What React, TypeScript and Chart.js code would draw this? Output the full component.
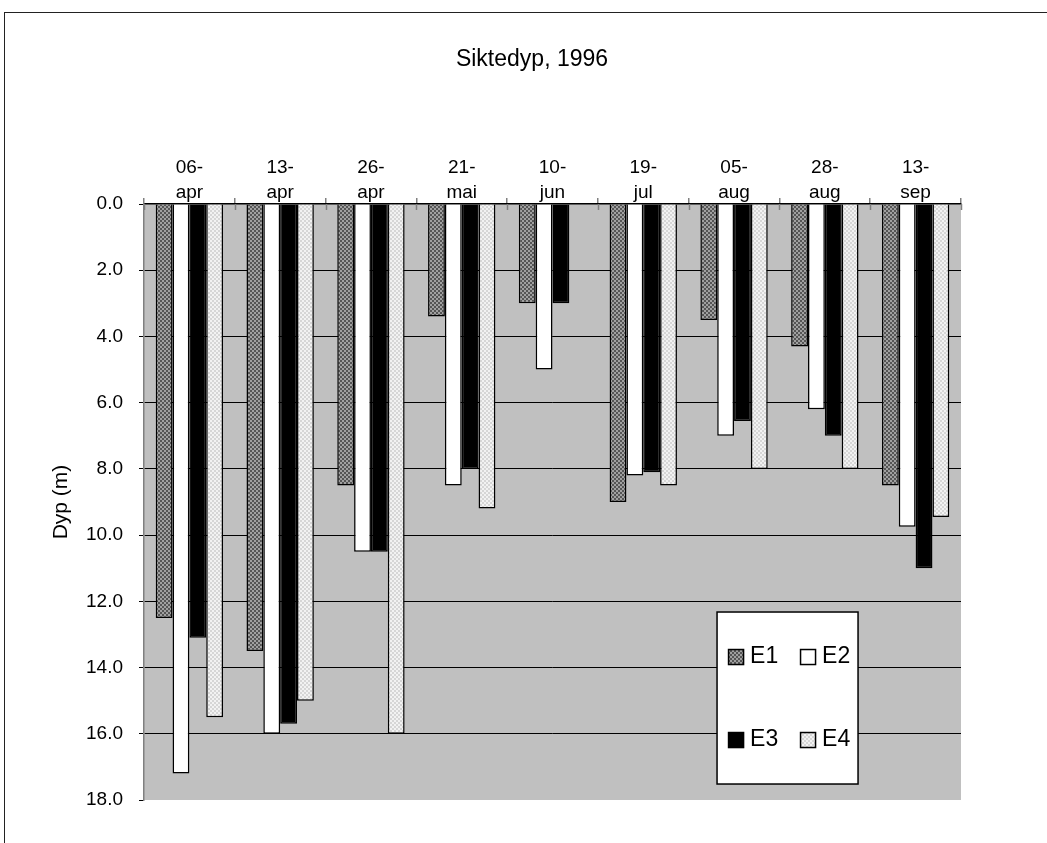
import React, { useEffect, useRef } from 'react';
import { Chart, registerables } from 'chart.js';

Chart.register(...registerables);

const chartTitle = 'Siktedyp, 1996';
const yAxisTitle = 'Dyp (m)';
const categories: string[][] = [
  ['06-', 'apr'], ['13-', 'apr'], ['26-', 'apr'], ['21-', 'mai'], ['10-', 'jun'],
  ['19-', 'jul'], ['05-', 'aug'], ['28-', 'aug'], ['13-', 'sep'],
];
const seriesNames = ['E1', 'E2', 'E3', 'E4'];
const e1Values = [12.5, 13.5, 8.5, 3.4, 3.0, 9.0, 3.5, 4.3, 8.5];
const e2Values = [17.2, 16.0, 10.5, 8.5, 5.0, 8.2, 7.0, 6.2, 9.75];
const e3Values = [13.1, 15.7, 10.5, 8.0, 3.0, 8.1, 6.55, 7.0, 11.0];
const e4Values: (number | null)[] = [15.5, 15.0, 16.0, 9.2, null, 8.5, 8.0, 8.0, 9.45];
const yMin = 0;
const yMax = 18;
const yStep = 2;

const FONT = "'Liberation Sans', Arial, sans-serif";

function makePattern(a: string, b: string, cell: number): CanvasPattern | string {
  const c = document.createElement('canvas');
  c.width = cell * 2;
  c.height = cell * 2;
  const ctx = c.getContext('2d');
  if (!ctx) return a;
  ctx.fillStyle = a;
  ctx.fillRect(0, 0, cell * 2, cell * 2);
  ctx.fillStyle = b;
  ctx.fillRect(cell, 0, cell, cell);
  ctx.fillRect(0, cell, cell, cell);
  const p = ctx.createPattern(c, 'repeat');
  return p || a;
}

export default function App() {
  const canvasRef = useRef<HTMLCanvasElement | null>(null);

  useEffect(() => {
    const canvas = canvasRef.current;
    if (!canvas) return;

    const fills = [
      makePattern('#555555', '#a0a0a0', 2),
      '#ffffff',
      '#000000',
      makePattern('#d6d6d6', '#f2f2f2', 2),
    ];

    const padLeft = 45;
    const padTop = 100;
    const padRight = 86;
    const padBottom = 43;
    const areaLeft = 144;
    const areaTop = 204;

    const decorPlugin = {
      id: 'decor',
      beforeDraw(chart: any) {
        const { ctx, chartArea } = chart;
        ctx.save();
        ctx.fillStyle = '#ffffff';
        ctx.fillRect(0, 0, chart.width, chart.height);
        ctx.strokeStyle = '#222222';
        ctx.lineWidth = 1;
        ctx.strokeRect(4.5, 12.5, chart.width + 50, chart.height + 50);
        ctx.fillStyle = '#c0c0c0';
        ctx.fillRect(chartArea.left, chartArea.top, chartArea.right - chartArea.left, chartArea.bottom - chartArea.top);
        ctx.restore();
      },
      afterDraw(chart: any) {
        const { ctx, chartArea } = chart;
        ctx.save();
        // tick marks crossing below the top axis
        const xs = chart.scales.x;
        const n = chart.data.labels.length;
        const step = (xs.right - xs.left) / n;
        ctx.strokeStyle = '#808080';
        ctx.lineWidth = 1.5;
        for (let i = 0; i <= n; i++) {
          const px = Math.round(xs.left + i * step) + 0.5;
          ctx.beginPath();
          ctx.moveTo(px, chartArea.top);
          ctx.lineTo(px, chartArea.top + 6);
          ctx.stroke();
        }

        // title
        ctx.fillStyle = '#000';
        ctx.font = `23px ${FONT}`;
        ctx.textAlign = 'center';
        ctx.textBaseline = 'middle';
        ctx.fillText(chartTitle, 532, 60);

        // legend box
        const w = chartArea.right - chartArea.left;
        const h = chartArea.bottom - chartArea.top;
        const lx = chartArea.left + w * 0.7014;
        const ly = chartArea.top + h * 0.6846;
        const lw = 141;
        const lh = 172;
        ctx.fillStyle = '#ffffff';
        ctx.fillRect(lx, ly, lw, lh);
        ctx.strokeStyle = '#000';
        ctx.lineWidth = 1.5;
        ctx.strokeRect(lx, ly, lw, lh);
        const ds = chart.data.datasets;
        ds.forEach((d: any, i: number) => {
          const col = i % 2;
          const row = Math.floor(i / 2);
          const sx = lx + 11 + col * 72;
          const cy = ly + 44 + row * 83;
          ctx.fillStyle = d.backgroundColor;
          ctx.fillRect(sx, cy - 7, 16, 16);
          ctx.strokeStyle = '#000';
          ctx.lineWidth = 1.5;
          ctx.strokeRect(sx + 0.5, cy - 6.5, 15, 15);
          ctx.fillStyle = '#000';
          ctx.font = `23px ${FONT}`;
          ctx.textAlign = 'left';
          ctx.textBaseline = 'middle';
          ctx.fillText(d.label, sx + 22, cy + 1);
        });
        ctx.restore();
      },
    };

    const chart = new Chart(canvas, {
      type: 'bar',
      data: {
        labels: categories,
        datasets: [e1Values, e2Values, e3Values, e4Values].map((vals, i) => ({
          label: seriesNames[i],
          data: vals,
          backgroundColor: fills[i] as any,
          borderColor: '#000000',
          borderWidth: 1.5,
          categoryPercentage: 0.742,
          barPercentage: 1.0,
        })),
      },
      options: {
        responsive: false,
        animation: false,
        events: [],
        layout: { padding: { left: padLeft, top: padTop, right: padRight, bottom: padBottom } },
        plugins: {
          legend: { display: false },
          title: { display: false },
          tooltip: { enabled: false },
        },
        scales: {
          x: {
            position: 'top',
            offset: true,
            grid: {
              offset: true,
              drawOnChartArea: false,
              color: '#808080',
              tickLength: 6,
              lineWidth: 1.5,
            },
            border: { color: '#000000', width: 1.5 },
            ticks: {
              color: '#000',
              font: { family: FONT, size: 19, lineHeight: 1.32 },
              padding: -7,
              maxRotation: 0,
              autoSkip: false,
            },
            afterFit(scale: any) {
              scale.height = areaTop - padTop;
            },
          },
          y: {
            reverse: true,
            min: yMin,
            max: yMax,
            ticks: {
              stepSize: yStep,
              color: '#000',
              font: { family: FONT, size: 19 },
              padding: 16,
              callback: (v: any) => Number(v).toFixed(1),
            },
            grid: {
              color: (c: any) => (c.tick && (c.tick.value === yMax || c.tick.value === yMin) ? 'rgba(0,0,0,0)' : '#000'),
              tickColor: '#000',
              tickLength: 5,
              lineWidth: 1,
            },
            border: { color: '#808080', width: 1.5 },
            title: {
              display: true,
              text: yAxisTitle,
              color: '#000',
              font: { family: FONT, size: 21 },
              padding: 4,
            },
            afterFit(scale: any) {
              scale.width = areaLeft - padLeft;
            },
          },
        },
      },
      plugins: [decorPlugin],
    });

    return () => chart.destroy();
  }, []);

  return (
    <div style={{ position: 'absolute', left: 0, top: 0, width: 1047, height: 843 }}>
      <canvas ref={canvasRef} width={1047} height={843} style={{ display: 'block', width: 1047, height: 843 }} />
    </div>
  );
}
